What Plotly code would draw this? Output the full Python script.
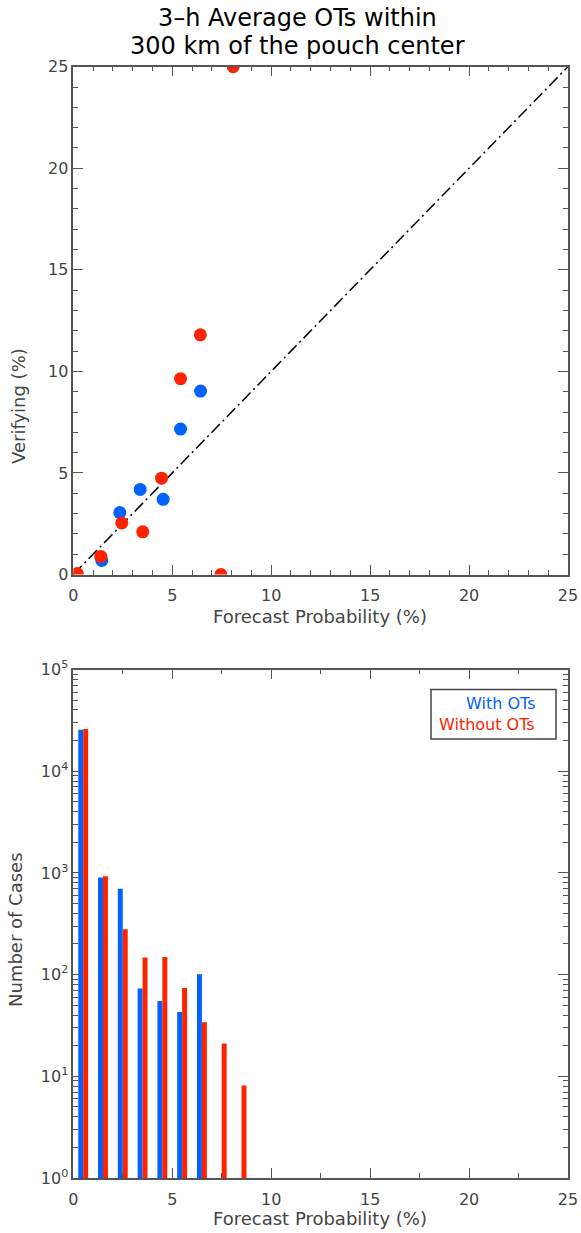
import plotly.graph_objects as go

# ---- Data ----
# Top panel: reliability points (forecast probability %, verifying %)
with_x = [1.44, 2.35, 3.38, 4.54, 5.42, 6.43]
with_y = [0.69, 3.05, 4.19, 3.70, 7.16, 9.03]
without_x = [0.2, 1.39, 2.45, 3.51, 4.46, 5.42, 6.42, 7.46, 8.08]
without_y = [0.05, 0.89, 2.54, 2.10, 4.74, 9.64, 11.8, 0.0, 25.0]
diag = [0, 25]

# Bottom panel: number of cases per 1% bin
bins_with = [0.375, 1.375, 2.375, 3.375, 4.375, 5.375, 6.375]
cases_with = [25500, 900, 700, 73, 55, 43, 101]
bins_without = [0.625, 1.625, 2.625, 3.625, 4.625, 5.625, 6.625, 7.625, 8.625]
cases_without = [26000, 925, 279, 147, 149, 74, 34, 21, 8.1]

x_ticks = [0, 5, 10, 15, 20, 25]
log_ticks = [1, 10, 100, 1000, 10000, 100000]
log_labels = ["10<sup>0</sup>", "10<sup>1</sup>", "10<sup>2</sup>", "10<sup>3</sup>",
              "10<sup>4</sup>", "10<sup>5</sup>"]

BLUE = "#0062FF"
RED = "#FF2200"
AXC = "#555555"
TXC = "#444444"
FONT = "DejaVu Sans"

W, H = 581, 1233
def px(x):
    return x / W
def py(y):
    return 1 - y / H

fig = go.Figure()

# top panel
fig.add_trace(go.Scatter(x=diag, y=diag, mode="lines",
                         line=dict(color="black", width=1.5, dash="12px,4px,2px,4px"),
                         xaxis="x", yaxis="y", showlegend=False, hoverinfo="skip"))
fig.add_trace(go.Scatter(x=with_x, y=with_y, mode="markers",
                         marker=dict(color=BLUE, size=13, line=dict(width=0)),
                         xaxis="x", yaxis="y", showlegend=False, cliponaxis=True))
fig.add_trace(go.Scatter(x=without_x, y=without_y, mode="markers",
                         marker=dict(color=RED, size=13, line=dict(width=0)),
                         xaxis="x", yaxis="y", showlegend=False, cliponaxis=True))

# bottom panel
fig.add_trace(go.Bar(x=bins_with, y=cases_with, width=0.25, marker=dict(color=BLUE, line=dict(width=0)),
                     xaxis="x2", yaxis="y2", showlegend=False))
fig.add_trace(go.Bar(x=bins_without, y=cases_without, width=0.25, marker=dict(color=RED, line=dict(width=0)),
                     xaxis="x2", yaxis="y2", showlegend=False))

common_ax = dict(showline=True, linecolor=AXC, linewidth=1.5, mirror="allticks",
                 ticks="inside", tickcolor=AXC, showgrid=False, zeroline=False,
                 automargin=False,
                 tickfont=dict(family=FONT, size=16, color=TXC))

fig.update_layout(
    width=W, height=H,
    margin=dict(l=0, r=0, t=0, b=0, autoexpand=False),
    paper_bgcolor="white", plot_bgcolor="white",
    barmode="overlay",
    font=dict(family=FONT, color=TXC),
    xaxis=dict(domain=[px(73.3), px(568)], anchor="y", range=[0, 25],
               tickvals=x_ticks, ticklen=10, tickwidth=1.2, ticklabelstandoff=6,
               minor=dict(ticks="inside", dtick=1, tick0=0, ticklen=5, tickcolor=AXC, showgrid=False),
               **common_ax),
    yaxis=dict(domain=[py(574.5), py(66.7)], anchor="x", range=[0, 25],
               tickvals=x_ticks, ticklen=10, tickwidth=1.2,
               minor=dict(ticks="inside", dtick=1, tick0=0, ticklen=5, tickcolor=AXC, showgrid=False),
               **common_ax),
    xaxis2=dict(domain=[px(73.3), px(568)], anchor="y2", range=[0, 25],
                tickvals=x_ticks, ticklen=10, tickwidth=1.2, ticklabelstandoff=6,
                minor=dict(ticks="inside", dtick=2.5, tick0=0, ticklen=5, tickcolor=AXC, showgrid=False),
                **common_ax),
    yaxis2=dict(domain=[py(1178), py(669.5)], anchor="x2", type="log", range=[0, 5],
                tickvals=log_ticks, ticktext=log_labels, ticklen=10, tickwidth=1.2,
                minor=dict(ticks="inside", tickvals=[m * 10 ** d for d in range(5) for m in range(2, 10)],
                           ticklen=5, tickcolor=AXC, showgrid=False),
                **common_ax),
    annotations=[
        dict(text="3\u2013h Average OTs within",
             x=px(297), y=py(18), xref="paper", yref="paper", showarrow=False,
             font=dict(family=FONT, size=24, color="black"), xanchor="center", yanchor="middle"),
        dict(text="300 km of the pouch center",
             x=px(297), y=py(46), xref="paper", yref="paper", showarrow=False,
             font=dict(family=FONT, size=24, color="black"), xanchor="center", yanchor="middle"),
        dict(text="Verifying (%)", x=px(19), y=py(406), xref="paper", yref="paper",
             showarrow=False, textangle=-90, xanchor="center", yanchor="middle",
             font=dict(family=FONT, size=18, color=TXC)),
        dict(text="Forecast Probability (%)", x=px(320), y=py(616), xref="paper", yref="paper",
             showarrow=False, font=dict(family=FONT, size=18, color=TXC)),
        dict(text="Number of Cases", x=px(15), y=py(930), xref="paper", yref="paper",
             showarrow=False, textangle=-90, xanchor="center", yanchor="middle",
             font=dict(family=FONT, size=18, color=TXC)),
        dict(text="Forecast Probability (%)", x=px(320), y=py(1231), xref="paper", yref="paper",
             showarrow=False, yanchor="bottom", font=dict(family=FONT, size=18, color=TXC)),
        dict(text="With OTs", x=px(537), y=py(703), xref="paper", yref="paper",
             showarrow=False, xanchor="right", font=dict(family=FONT, size=16, color=BLUE)),
        dict(text="Without OTs", x=px(537), y=py(724), xref="paper", yref="paper",
             showarrow=False, xanchor="right", font=dict(family=FONT, size=16, color=RED)),
    ],
    shapes=[
        dict(type="rect", xref="paper", yref="paper", x0=px(431), x1=px(556),
             y0=py(739), y1=py(689.5), line=dict(color="#444444", width=1.5), fillcolor="rgba(0,0,0,0)"),
    ],
)

fig.write_html("out.html", config={"displayModeBar": False},
               post_script="document.body.style.margin='0';document.body.style.padding='0';")
